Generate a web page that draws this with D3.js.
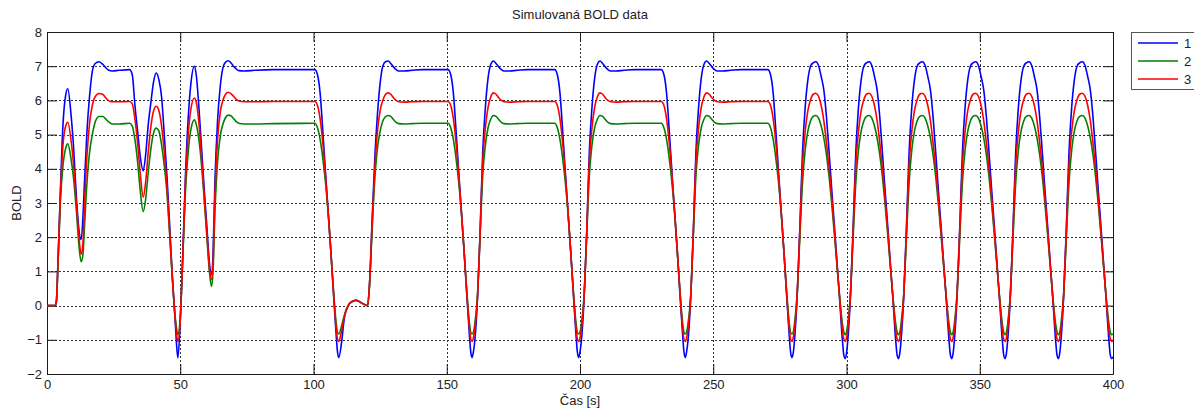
<!DOCTYPE html>
<html>
<head>
<meta charset="utf-8">
<script src="https://cdn.jsdelivr.net/npm/d3@7"></script>
<style>
  body { margin: 0; background: #fff; }
  svg { display: block; font-family: "Liberation Sans", Arial, sans-serif; }
</style>
</head>
<body>
<div id="chart"></div>
<script>
// Time axis [s] (shared by the three series)
const time = [
  0, 3, 3.5, 4, 5, 6, 7, 7.8, 9, 10, 11, 12, 12.8, 13.5, 14, 15, 16, 17, 18, 19.5, 21, 22, 23, 24.5, 27, 31, 32, 33, 34, 35, 36.1, 37, 38, 39, 40, 41, 42, 43, 44, 45, 46, 47, 48, 48.5, 49.1,
  50, 50.5, 51, 52, 53, 54, 55.3, 56, 57, 58, 59, 60, 61, 61.7, 62.3, 63, 64, 65, 66, 67, 68, 69, 70, 71, 72, 74, 78, 85, 100.5,
  101.5, 102.5, 103.5, 104.5, 105.5, 106.5, 107.5, 108.5, 109, 109.5, 110.5, 111.5, 113, 114.5, 116, 118, 120.3, 121, 122, 123, 124, 125, 126, 127, 128, 129, 130, 131, 132, 134, 137, 141, 150.5,
  151.5, 152.5, 153.5, 154.5, 155.5, 156.5, 157.5, 158.5, 159, 159.5, 160, 160.5, 161.5, 162.5, 163.5, 164.5, 165.5, 166.5, 167.5, 168.5, 169.5, 170.5, 171.5, 173.5, 176.5, 180.5, 190.5,
  191.5, 192.5, 193.5, 194.5, 195.5, 196.5, 197.5, 198.5, 199, 199.5, 200, 200.5, 201.5, 202.5, 203.5, 204.5, 205.5, 206.5, 207.5, 208.5, 209.5, 210.5, 211.5, 213.5, 216.5, 220.5, 230.5,
  231.5, 232.5, 233.5, 234.5, 235.5, 236.5, 237.5, 238.5, 239, 239.5, 240, 240.5, 241.5, 242.5, 243.5, 244.5, 245.5, 246.5, 247.5, 248.5, 249.5, 250.5, 251.5, 253.5, 256.5, 260.5, 270.5,
  271.5, 272.5, 273.5, 274.5, 275.5, 276.5, 277.5, 278.5, 279, 279.5,
  280, 280.5, 281.5, 282.5, 283.5, 284.5, 285.5, 286.5, 287.5, 288.5, 289.5, 290.5, 291.5, 292.5, 293.5, 294.5, 295.5, 296.5, 297.5, 298.5, 299, 299.5,
  300, 300.5, 301.5, 302.5, 303.5, 304.5, 305.5, 306.5, 307.5, 308.5, 309.5, 310.5, 311.5, 312.5, 313.5, 314.5, 315.5, 316.5, 317.5, 318.5, 319, 319.5,
  320, 320.5, 321.5, 322.5, 323.5, 324.5, 325.5, 326.5, 327.5, 328.5, 329.5, 330.5, 331.5, 332.5, 333.5, 334.5, 335.5, 336.5, 337.5, 338.5, 339, 339.5,
  340, 340.5, 341.5, 342.5, 343.5, 344.5, 345.5, 346.5, 347.5, 348.5, 349.5, 350.5, 351.5, 352.5, 353.5, 354.5, 355.5, 356.5, 357.5, 358.5, 359, 359.5,
  360, 360.5, 361.5, 362.5, 363.5, 364.5, 365.5, 366.5, 367.5, 368.5, 369.5, 370.5, 371.5, 372.5, 373.5, 374.5, 375.5, 376.5, 377.5, 378.5, 379, 379.5,
  380, 380.5, 381.5, 382.5, 383.5, 384.5, 385.5, 386.5, 387.5, 388.5, 389.5, 390.5, 391.5, 392.5, 393.5, 394.5, 395.5, 396.5, 397.5, 398.5, 399, 399.5,
  400
];

// Series 1 (blue)
const bold1 = [
  0, 0, 0.1, 1.0, 3.3, 5.3, 6.15, 6.34, 5.6, 4.6, 3.2, 2.2, 1.93, 2.6, 3.5, 5.1, 6.15, 6.85, 7.07, 7.13, 7.05, 6.96, 6.89, 6.86, 6.88, 6.9, 6.75, 5.85, 5.1, 4.35, 3.94, 4.4, 5.3, 5.95, 6.55, 6.8, 6.6, 6.1, 5.0, 3.8, 2.4, 0.9, -0.3, -1.0, -1.53,
  -0.45, 0.55, 1.6, 3.9, 5.5, 6.5, 7.0, 6.75, 5.8, 4.6, 3.4, 2.3, 1.2, 0.91, 1.5, 3.6, 5.4, 6.4, 6.95, 7.12, 7.16, 7.1, 7.0, 6.92, 6.87, 6.86, 6.88, 6.9, 6.9,
  6.75, 6.2, 5.1, 3.9, 2.75, 1.6, 0.35, -0.85, -1.35, -1.52, -1.1, -0.4, 0.0, 0.12, 0.16, 0.08, 0.0, 0.6, 2.5, 4.3, 5.6, 6.5, 7.0, 7.13, 7.15, 7.08, 6.98, 6.9, 6.86, 6.86, 6.88, 6.9, 6.9,
  6.75, 6.2, 5.1, 3.9, 2.75, 1.6, 0.35, -0.85, -1.35, -1.52, -1.35, -1.05, 0.15, 2.1, 4.5, 5.8, 6.65, 7.05, 7.15, 7.08, 6.98, 6.9, 6.86, 6.86, 6.88, 6.9, 6.9,
  6.75, 6.2, 5.1, 3.9, 2.75, 1.6, 0.35, -0.85, -1.35, -1.52, -1.35, -1.05, 0.15, 2.1, 4.5, 5.8, 6.65, 7.05, 7.15, 7.08, 6.98, 6.9, 6.86, 6.86, 6.88, 6.9, 6.9,
  6.75, 6.2, 5.1, 3.9, 2.75, 1.6, 0.35, -0.85, -1.35, -1.52, -1.35, -1.05, 0.15, 2.1, 4.5, 5.8, 6.65, 7.05, 7.15, 7.08, 6.98, 6.9, 6.86, 6.86, 6.88, 6.9, 6.9,
  6.75, 6.2, 5.1, 3.9, 2.75, 1.6, 0.35, -0.85, -1.35, -1.52,
  -1.4, -1.0, 0.3, 2.3, 4.5, 5.8, 6.6, 7.0, 7.1, 7.13, 7.02, 6.7, 6.3, 5.5, 4.45, 3.35, 2.3, 1.2, 0.1, -1.05, -1.45, -1.55,
  -1.4, -1.0, 0.3, 2.3, 4.5, 5.8, 6.6, 7.0, 7.1, 7.13, 7.02, 6.7, 6.3, 5.5, 4.45, 3.35, 2.3, 1.2, 0.1, -1.05, -1.45, -1.55,
  -1.4, -1.0, 0.3, 2.3, 4.5, 5.8, 6.6, 7.0, 7.1, 7.13, 7.02, 6.7, 6.3, 5.5, 4.45, 3.35, 2.3, 1.2, 0.1, -1.05, -1.45, -1.55,
  -1.4, -1.0, 0.3, 2.3, 4.5, 5.8, 6.6, 7.0, 7.1, 7.13, 7.02, 6.7, 6.3, 5.5, 4.45, 3.35, 2.3, 1.2, 0.1, -1.05, -1.45, -1.55,
  -1.4, -1.0, 0.3, 2.3, 4.5, 5.8, 6.6, 7.0, 7.1, 7.13, 7.02, 6.7, 6.3, 5.5, 4.45, 3.35, 2.3, 1.2, 0.1, -1.05, -1.45, -1.55,
  -1.4, -1.0, 0.3, 2.3, 4.5, 5.8, 6.6, 7.0, 7.1, 7.13, 7.02, 6.7, 6.3, 5.5, 4.45, 3.35, 2.3, 1.2, 0.1, -1.05, -1.45, -1.55,
  -1.5
];

// Series 2 (green)
const bold2 = [
  0, 0, 0.1, 0.9, 3.0, 4.1, 4.6, 4.73, 4.3, 3.7, 2.8, 1.75, 1.28, 1.5, 2.2, 3.6, 4.5, 5.0, 5.35, 5.53, 5.53, 5.46, 5.38, 5.31, 5.31, 5.33, 5.25, 4.85, 4.2, 3.35, 2.75, 3.1, 3.9, 4.6, 5.05, 5.19, 5.1, 4.7, 4.1, 3.3, 2.1, 0.85, -0.25, -0.6, -0.85,
  -0.35, 0.5, 1.5, 3.4, 4.5, 5.15, 5.43, 5.3, 4.85, 4.1, 3.1, 2.0, 0.95, 0.56, 1.0, 2.7, 4.2, 4.95, 5.3, 5.5, 5.57, 5.55, 5.47, 5.38, 5.33, 5.31, 5.31, 5.32, 5.33,
  5.2, 4.85, 4.3, 3.6, 2.7, 1.6, 0.45, -0.5, -0.78, -0.83, -0.6, -0.3, 0.0, 0.12, 0.15, 0.08, 0.0, 0.55, 2.2, 3.7, 4.6, 5.1, 5.4, 5.52, 5.56, 5.53, 5.44, 5.36, 5.32, 5.31, 5.32, 5.33, 5.33,
  5.2, 4.85, 4.3, 3.6, 2.7, 1.6, 0.45, -0.5, -0.78, -0.83, -0.78, -0.55, 0.25, 2.0, 3.8, 4.7, 5.2, 5.45, 5.56, 5.53, 5.44, 5.36, 5.32, 5.31, 5.32, 5.33, 5.33,
  5.2, 4.85, 4.3, 3.6, 2.7, 1.6, 0.45, -0.5, -0.78, -0.83, -0.78, -0.55, 0.25, 2.0, 3.8, 4.7, 5.2, 5.45, 5.56, 5.53, 5.44, 5.36, 5.32, 5.31, 5.32, 5.33, 5.33,
  5.2, 4.85, 4.3, 3.6, 2.7, 1.6, 0.45, -0.5, -0.78, -0.83, -0.78, -0.55, 0.25, 2.0, 3.8, 4.7, 5.2, 5.45, 5.56, 5.53, 5.44, 5.36, 5.32, 5.31, 5.32, 5.33, 5.33,
  5.2, 4.85, 4.3, 3.6, 2.7, 1.6, 0.45, -0.5, -0.78, -0.83,
  -0.78, -0.52, 0.35, 2.0, 3.6, 4.55, 5.1, 5.4, 5.53, 5.56, 5.48, 5.25, 4.9, 4.4, 3.75, 2.95, 2.05, 1.1, 0.2, -0.55, -0.78, -0.85,
  -0.78, -0.52, 0.35, 2.0, 3.6, 4.55, 5.1, 5.4, 5.53, 5.56, 5.48, 5.25, 4.9, 4.4, 3.75, 2.95, 2.05, 1.1, 0.2, -0.55, -0.78, -0.85,
  -0.78, -0.52, 0.35, 2.0, 3.6, 4.55, 5.1, 5.4, 5.53, 5.56, 5.48, 5.25, 4.9, 4.4, 3.75, 2.95, 2.05, 1.1, 0.2, -0.55, -0.78, -0.85,
  -0.78, -0.52, 0.35, 2.0, 3.6, 4.55, 5.1, 5.4, 5.53, 5.56, 5.48, 5.25, 4.9, 4.4, 3.75, 2.95, 2.05, 1.1, 0.2, -0.55, -0.78, -0.85,
  -0.78, -0.52, 0.35, 2.0, 3.6, 4.55, 5.1, 5.4, 5.53, 5.56, 5.48, 5.25, 4.9, 4.4, 3.75, 2.95, 2.05, 1.1, 0.2, -0.55, -0.78, -0.85,
  -0.78, -0.52, 0.35, 2.0, 3.6, 4.55, 5.1, 5.4, 5.53, 5.56, 5.48, 5.25, 4.9, 4.4, 3.75, 2.95, 2.05, 1.1, 0.2, -0.55, -0.78, -0.85,
  -0.83
];

// Series 3 (red)
const bold3 = [
  0, 0, 0.1, 1.0, 3.2, 4.7, 5.25, 5.36, 4.85, 4.1, 3.0, 2.0, 1.5, 1.85, 2.8, 4.4, 5.35, 5.85, 6.1, 6.2, 6.17, 6.08, 6.0, 5.96, 5.96, 5.97, 5.9, 5.45, 4.75, 3.85, 3.17, 3.6, 4.5, 5.25, 5.7, 5.83, 5.7, 5.25, 4.5, 3.5, 2.2, 0.85, -0.3, -0.75, -1.05,
  -0.45, 0.5, 1.55, 3.7, 5.0, 5.75, 6.07, 5.95, 5.35, 4.3, 3.2, 2.1, 1.05, 0.76, 1.2, 3.2, 4.85, 5.65, 6.0, 6.18, 6.24, 6.2, 6.12, 6.03, 5.98, 5.96, 5.96, 5.97, 5.97,
  5.85, 5.45, 4.75, 3.8, 2.75, 1.6, 0.4, -0.65, -0.98, -1.05, -0.75, -0.35, 0.0, 0.12, 0.15, 0.08, 0.0, 0.6, 2.4, 4.0, 5.1, 5.7, 6.0, 6.17, 6.22, 6.18, 6.08, 6.0, 5.96, 5.95, 5.96, 5.97, 5.97,
  5.85, 5.45, 4.75, 3.8, 2.75, 1.6, 0.4, -0.65, -0.98, -1.05, -0.95, -0.7, 0.2, 2.1, 4.2, 5.2, 5.8, 6.1, 6.22, 6.18, 6.08, 6.0, 5.96, 5.95, 5.96, 5.97, 5.97,
  5.85, 5.45, 4.75, 3.8, 2.75, 1.6, 0.4, -0.65, -0.98, -1.05, -0.95, -0.7, 0.2, 2.1, 4.2, 5.2, 5.8, 6.1, 6.22, 6.18, 6.08, 6.0, 5.96, 5.95, 5.96, 5.97, 5.97,
  5.85, 5.45, 4.75, 3.8, 2.75, 1.6, 0.4, -0.65, -0.98, -1.05, -0.95, -0.7, 0.2, 2.1, 4.2, 5.2, 5.8, 6.1, 6.22, 6.18, 6.08, 6.0, 5.96, 5.95, 5.96, 5.97, 5.97,
  5.85, 5.45, 4.75, 3.8, 2.75, 1.6, 0.4, -0.65, -0.98, -1.05,
  -0.95, -0.68, 0.35, 2.2, 4.1, 5.1, 5.7, 6.02, 6.18, 6.21, 6.12, 5.85, 5.4, 4.75, 4.0, 3.1, 2.15, 1.15, 0.15, -0.75, -0.98, -1.05,
  -0.95, -0.68, 0.35, 2.2, 4.1, 5.1, 5.7, 6.02, 6.18, 6.21, 6.12, 5.85, 5.4, 4.75, 4.0, 3.1, 2.15, 1.15, 0.15, -0.75, -0.98, -1.05,
  -0.95, -0.68, 0.35, 2.2, 4.1, 5.1, 5.7, 6.02, 6.18, 6.21, 6.12, 5.85, 5.4, 4.75, 4.0, 3.1, 2.15, 1.15, 0.15, -0.75, -0.98, -1.05,
  -0.95, -0.68, 0.35, 2.2, 4.1, 5.1, 5.7, 6.02, 6.18, 6.21, 6.12, 5.85, 5.4, 4.75, 4.0, 3.1, 2.15, 1.15, 0.15, -0.75, -0.98, -1.05,
  -0.95, -0.68, 0.35, 2.2, 4.1, 5.1, 5.7, 6.02, 6.18, 6.21, 6.12, 5.85, 5.4, 4.75, 4.0, 3.1, 2.15, 1.15, 0.15, -0.75, -0.98, -1.05,
  -0.95, -0.68, 0.35, 2.2, 4.1, 5.1, 5.7, 6.02, 6.18, 6.21, 6.12, 5.85, 5.4, 4.75, 4.0, 3.1, 2.15, 1.15, 0.15, -0.75, -0.98, -1.05,
  -1.02
];

const seriesNames = ["1", "2", "3"];
const seriesColors = ["#0000ff", "#008000", "#ff0000"];
const xTicks = [0, 50, 100, 150, 200, 250, 300, 350, 400];
const yTicks = [-2, -1, 0, 1, 2, 3, 4, 5, 6, 7, 8];

const titleText = "Simulovaná BOLD data";
const xLabelText = "Čas [s]";
const yLabelText = "BOLD";

// Layout
const width = 1194, height = 409;
const plotLeft = 47, plotRight = 1113, plotTop = 32, plotBottom = 374;
const tickLen = 10;
const axisColor = "#1a1a1a";
const fontSize = "13px";

const x = d3.scaleLinear().domain([0, 400]).range([plotLeft, plotRight]);
const y = d3.scaleLinear().domain([-2, 8]).range([plotBottom, plotTop]);

const svg = d3.select("#chart").append("svg")
  .attr("width", width)
  .attr("height", height);

// Dotted grid
const grid = svg.append("g").attr("class", "grid")
  .attr("stroke", "#333")
  .attr("stroke-width", 1)
  .attr("stroke-dasharray", "2,2")
  .attr("shape-rendering", "crispEdges");

grid.selectAll("line.gx")
  .data(xTicks.slice(1, -1))
  .join("line")
  .attr("class", "gx")
  .attr("x1", d => Math.round(x(d)) + 0.5)
  .attr("x2", d => Math.round(x(d)) + 0.5)
  .attr("y1", plotTop)
  .attr("y2", plotBottom);

grid.selectAll("line.gy")
  .data(yTicks.slice(1, -1))
  .join("line")
  .attr("class", "gy")
  .attr("x1", plotLeft)
  .attr("x2", plotRight)
  .attr("y1", d => Math.round(y(d)) + 0.5)
  .attr("y2", d => Math.round(y(d)) + 0.5);

// Axes: ticks pointing inwards on all four sides
function styleAxis(g) {
  g.attr("font-family", null).attr("font-size", null);
  g.selectAll("path.domain").attr("stroke", axisColor);
  g.selectAll(".tick line").attr("stroke", axisColor);
  g.selectAll(".tick text").attr("fill", "#222").style("font-size", fontSize);
}

svg.append("g")
  .attr("transform", `translate(0,${plotBottom})`)
  .call(d3.axisBottom(x).tickValues(xTicks).tickSizeInner(-tickLen).tickSizeOuter(0).tickPadding(6))
  .call(styleAxis);

svg.append("g")
  .attr("transform", `translate(0,${plotTop})`)
  .call(d3.axisTop(x).tickValues(xTicks).tickSizeInner(-tickLen).tickSizeOuter(0).tickFormat(""))
  .call(styleAxis);

svg.append("g")
  .attr("transform", `translate(${plotLeft},0)`)
  .call(d3.axisLeft(y).tickValues(yTicks).tickSizeInner(-tickLen).tickSizeOuter(0).tickPadding(5))
  .call(styleAxis);

svg.append("g")
  .attr("transform", `translate(${plotRight},0)`)
  .call(d3.axisRight(y).tickValues(yTicks).tickSizeInner(-tickLen).tickSizeOuter(0).tickFormat(""))
  .call(styleAxis);

// Series lines
const seriesValues = [bold1, bold2, bold3];
const line = d3.line()
  .x(d => x(d[0]))
  .y(d => y(d[1]))
  .curve(d3.curveMonotoneX);

svg.append("g").attr("class", "series")
  .selectAll("path")
  .data(seriesValues.map(vals => time.map((t, i) => [t, vals[i]])))
  .join("path")
  .attr("fill", "none")
  .attr("stroke", (d, i) => seriesColors[i])
  .attr("stroke-width", 1.6)
  .attr("stroke-linejoin", "round")
  .attr("d", line);

// Title and axis labels
svg.append("text")
  .attr("x", (plotLeft + plotRight) / 2)
  .attr("y", 19)
  .attr("text-anchor", "middle")
  .attr("fill", "#222")
  .style("font-size", fontSize)
  .text(titleText);

svg.append("text")
  .attr("x", (plotLeft + plotRight) / 2)
  .attr("y", 405)
  .attr("text-anchor", "middle")
  .attr("fill", "#222")
  .style("font-size", fontSize)
  .text(xLabelText);

svg.append("text")
  .attr("transform", `translate(21,${(plotTop + plotBottom) / 2}) rotate(-90)`)
  .attr("text-anchor", "middle")
  .attr("fill", "#222")
  .style("font-size", fontSize)
  .text(yLabelText);

// Legend
const legend = svg.append("g").attr("class", "legend");
legend.append("rect")
  .attr("x", 1131.5)
  .attr("y", 32.5)
  .attr("width", 70)
  .attr("height", 57)
  .attr("fill", "#fff")
  .attr("stroke", "#555");

const legendRowY = [43, 61, 79];
seriesNames.forEach((name, i) => {
  legend.append("line")
    .attr("x1", 1138)
    .attr("x2", 1178)
    .attr("y1", legendRowY[i])
    .attr("y2", legendRowY[i])
    .attr("stroke", seriesColors[i])
    .attr("stroke-width", 1.6);
  legend.append("text")
    .attr("x", 1184)
    .attr("y", legendRowY[i] + 5)
    .attr("fill", "#222")
    .style("font-size", fontSize)
    .text(name);
});
</script>
</body>
</html>
